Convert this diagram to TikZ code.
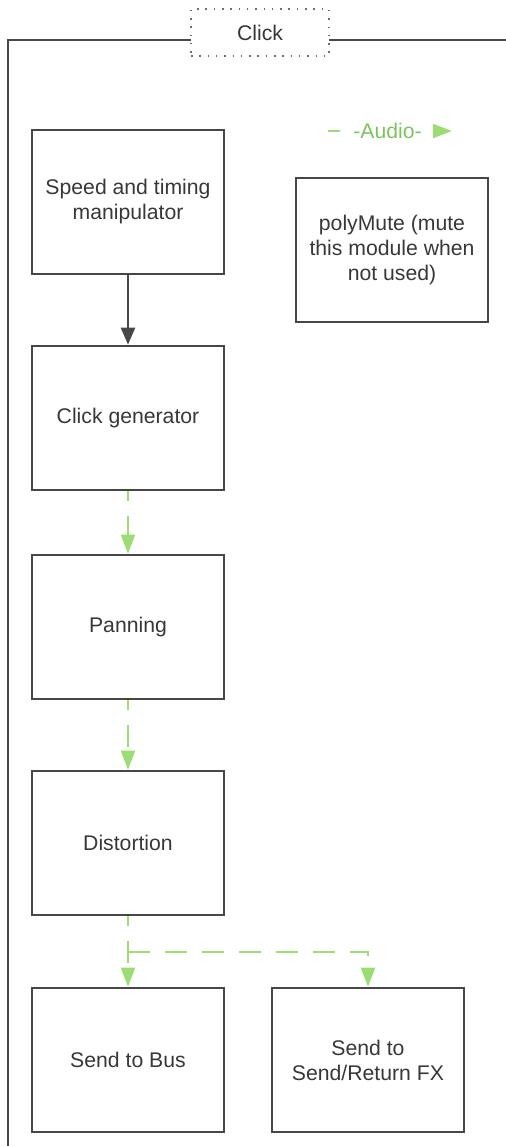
\documentclass[tikz,border=0pt]{standalone}
\usepackage{fontspec}
\setmainfont{Liberation Sans}
\usetikzlibrary{arrows.meta}
\definecolor{boxline}{HTML}{474747}
\definecolor{txt}{HTML}{383838}
\definecolor{audiol}{HTML}{9CDC74}
\definecolor{audiot}{HTML}{7CC35C}
\tikzset{
  module/.style={draw=boxline, line width=2.6pt, minimum width=192pt, minimum height=144pt,
    inner sep=0pt, align=center, text=txt, font=\fontsize{21.2}{25}\selectfont, fill=white},
  frameline/.style={draw=boxline, line width=2pt},
  titlebox/.style={draw=boxline!80, line width=1.5pt, dash pattern=on 1.5pt off 6.8pt,
    minimum width=138pt, minimum height=47pt, fill=white, text=txt,
    font=\fontsize{21.2}{25}\selectfont},
  ctrlarrow/.style={draw=boxline, line width=2pt, -{Triangle[length=17pt,width=14pt]}},
  audio/.style={draw=audiol, line width=2pt, dash pattern=on 22pt off 15pt, dash phase=12pt,
    -{Triangle[length=19pt,width=14pt]}},
}
\begin{document}
\begin{tikzpicture}[x=1pt,y=-1pt]
\useasboundingbox (0,0) rectangle (506,1146);
% frame
\draw[frameline] (506,40) -- (8,40) -- (8,1147);
\node[titlebox] (title) at (260,32.5) {Click};
% modules
\node[module] (b1) at (128,202) {Speed and timing\\manipulator};
\node[module] (b2) at (128,418) {Click generator};
\node[module] (b3) at (128,627) {Panning};
\node[module] (b4) at (128,843) {Distortion};
\node[module] (b5) at (128,1060) {Send to Bus};
\node[module] (b6) at (368,1060) {Send to\\Send/Return FX};
\node[module] (pm) at (392,250) {polyMute (mute\\this module when\\not used)};
% connectors
\draw[ctrlarrow] (b1) -- (b2);
\draw[audio] (b2) -- (b3);
\draw[audio] (b3) -- (b4);
\draw[audio] (b4) -- (b5);
\coordinate (br) at (128,952);
\draw[audio, dash phase=0pt] (br) -| (b6);
% legend
\coordinate (la) at (328,131);
\coordinate (lb) at (452,131);
\draw[audio, dash pattern=on 12pt off 300pt, dash phase=0pt] (la) -- (lb);
\node[text=audiot, font=\fontsize{21.2}{25}\selectfont, inner sep=0pt] (lt) at (387.5,131) {-Audio-};
\end{tikzpicture}
\end{document}
